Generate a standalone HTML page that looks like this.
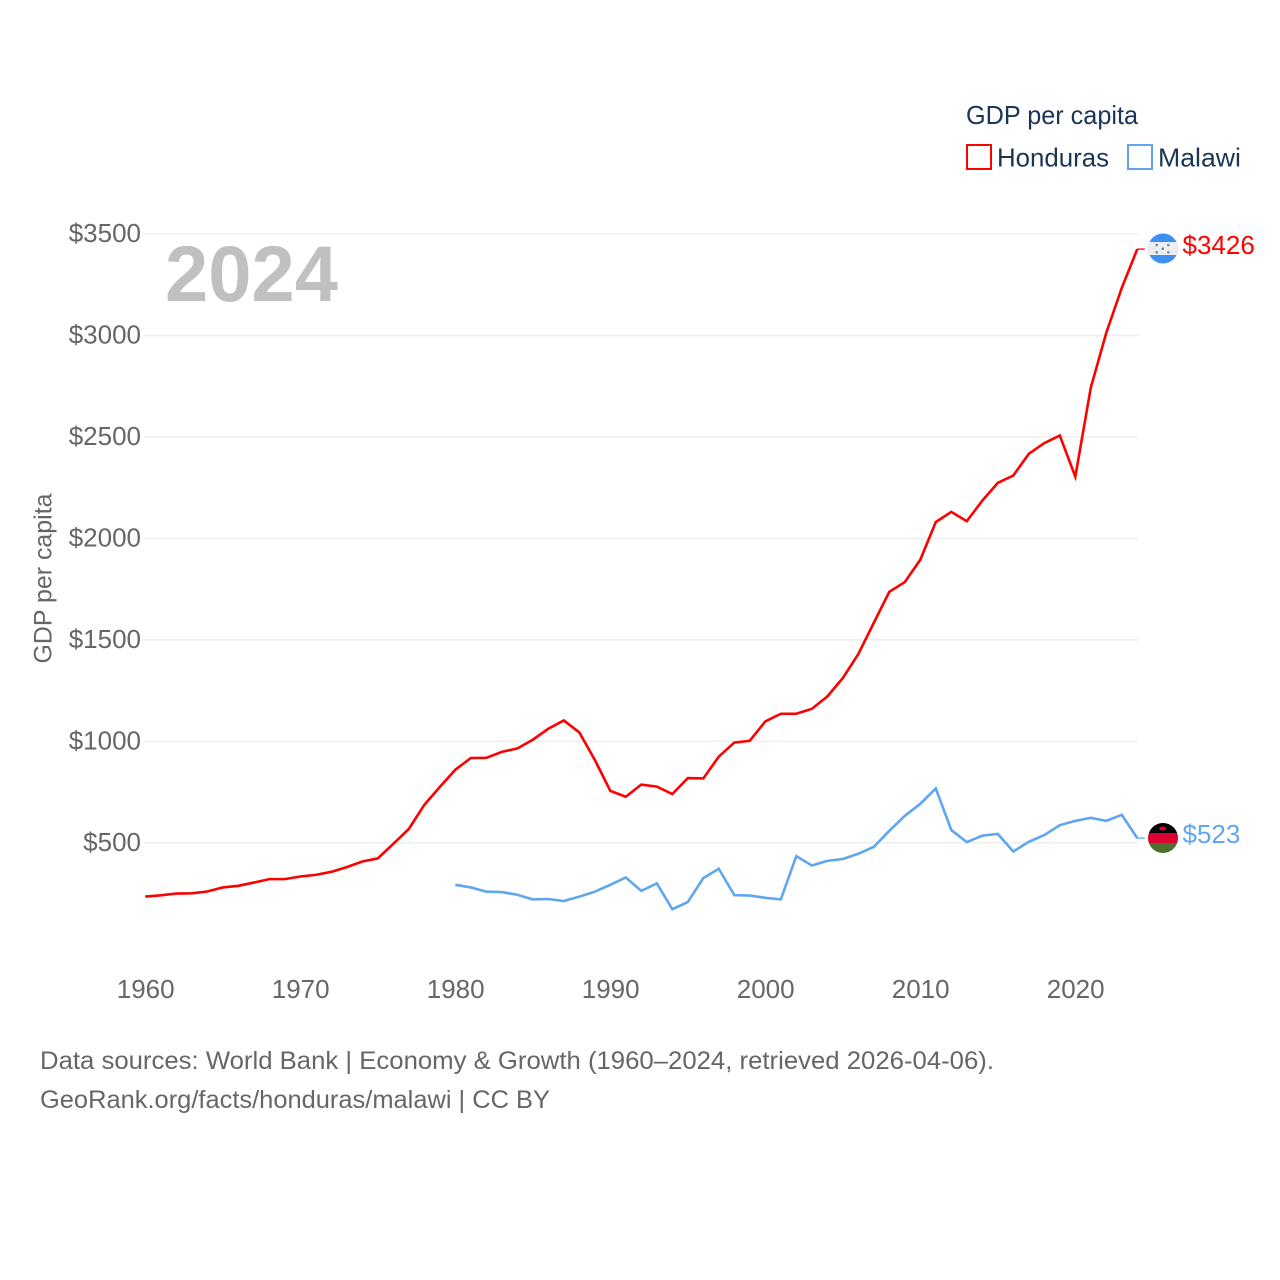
<!DOCTYPE html>
<html lang="en">
<head>
<meta charset="utf-8">
<title>GDP per capita: Honduras and Malawi</title>
<style>
html,body{margin:0;padding:0;background:#fff;width:1280px;height:1280px;overflow:hidden}
svg{display:block}
text{font-family:"Liberation Sans",sans-serif}
</style>
</head>
<body>
<svg id="chart" width="1280" height="1280" viewBox="0 0 1280 1280" xmlns="http://www.w3.org/2000/svg">
  <defs>
    <clipPath id="clip-hn"><circle cx="1163" cy="248.5" r="15"/></clipPath>
    <clipPath id="clip-mw"><circle cx="1163" cy="838" r="15"/></clipPath>
  </defs>
  <g id="grid"></g>
  <g id="yticks"></g>
  <g id="xticks"></g>
  <text x="165" y="301" font-size="79" font-weight="700" fill="#c0c0c0" textLength="173" lengthAdjust="spacingAndGlyphs">2024</text>
  <text transform="translate(51.5,663.5) rotate(-90)" font-size="25" fill="#666666" textLength="170" lengthAdjust="spacingAndGlyphs">GDP per capita</text>
  <g id="series"></g>

  <g clip-path="url(#clip-hn)">
    <rect x="1148" y="233" width="30" height="31" fill="#3d8ff0"/>
    <rect x="1148" y="242" width="30" height="13" fill="#eeeeee"/>
    <circle cx="1156.7" cy="245" r="1.3" fill="#4a90e2"/>
    <circle cx="1168.3" cy="245" r="1.3" fill="#4a90e2"/>
    <circle cx="1162.7" cy="248.7" r="1.3" fill="#4a90e2"/>
    <circle cx="1156.7" cy="252.3" r="1.3" fill="#4a90e2"/>
    <circle cx="1168.3" cy="252.3" r="1.3" fill="#4a90e2"/>
  </g>
  <g clip-path="url(#clip-mw)">
    <rect x="1148" y="823" width="30" height="10" fill="#000000"/>
    <rect x="1148" y="833" width="30" height="10" fill="#dc0030"/>
    <rect x="1148" y="843" width="30" height="10" fill="#4d7030"/>
    <ellipse cx="1162.7" cy="828.5" rx="3.5" ry="2" fill="#dc0030"/>
  </g>
  <g id="end-labels"></g>

  <g>
    <text x="966" y="124" font-size="26" fill="#1b3556" textLength="172" lengthAdjust="spacingAndGlyphs">GDP per capita</text>
    <g>
      <rect x="967" y="145" width="24" height="24" fill="none" stroke="#ff0000" stroke-width="2"/>
      <text x="997" y="166.5" font-size="26" fill="#1b3556" textLength="112" lengthAdjust="spacingAndGlyphs">Honduras</text>
    </g>
    <g>
      <rect x="1128" y="145" width="24" height="24" fill="none" stroke="#5fa6ee" stroke-width="2"/>
      <text x="1158" y="166.5" font-size="26" fill="#1b3556" textLength="83" lengthAdjust="spacingAndGlyphs">Malawi</text>
    </g>
  </g>

  <text x="40" y="1069" font-size="25" fill="#666666" textLength="954" lengthAdjust="spacingAndGlyphs">Data sources: World Bank | Economy &amp; Growth (1960–2024, retrieved 2026-04-06).</text>
  <text x="40" y="1108" font-size="25" fill="#666666" textLength="510" lengthAdjust="spacingAndGlyphs">GeoRank.org/facts/honduras/malawi | CC BY</text>
</svg>
<script>
const hondurasStartYear = 1960;
const malawiStartYear = 1980;
const hondurasValues = [235,241,250,251,260,280,288,304,321,321,334,342,357,380,408,423,495,568,687,775,860,918,919,948,965,1008,1062,1103,1044,909,756,727,787,777,740,819,817,925,994,1003,1098,1136,1136,1160,1221,1312,1430,1584,1737,1785,1895,2081,2131,2085,2186,2274,2310,2417,2470,2507,2305,2743,3014,3235,3426];
const malawiValues = [293,280,259,257,244,221,223,213,235,259,293,329,263,300,173,208,326,372,242,240,229,221,434,388,411,420,446,480,559,633,692,768,563,503,535,544,457,505,538,587,608,623,608,638,523];
const yTickValues = [500,1000,1500,2000,2500,3000,3500];
const xTickValues = [1960,1970,1980,1990,2000,2010,2020];

const NS = 'http://www.w3.org/2000/svg';
function x(year) { return 145.3 + (year - 1960) * 15.5; }
function y(value) { return 842.8 - (value - 500) * 0.2029; }
function money(v) { return '$' + v; }
function make(tag, parent) {
  const el = document.createElementNS(NS, tag);
  parent.appendChild(el);
  return el;
}

const gridGroup = document.getElementById('grid');
const yTickGroup = document.getElementById('yticks');
const xTickGroup = document.getElementById('xticks');
const seriesGroup = document.getElementById('series');
const endGroup = document.getElementById('end-labels');

yTickValues.forEach(function (v) {
  const line = make('line', gridGroup);
  
  
  line.setAttribute('x1', 144);
  line.setAttribute('x2', 1138);
  line.setAttribute('y1', y(v));
  line.setAttribute('y2', y(v));
  line.setAttribute('stroke', '#eeeeee');
  line.setAttribute('stroke-width', 1.5);
  const label = make('text', yTickGroup);
  
  
  label.setAttribute('x', 141);
  label.setAttribute('y', y(v) + 8);
  label.setAttribute('text-anchor', 'end');
  label.setAttribute('font-size', 26);
  label.setAttribute('fill', '#666666');
  label.textContent = money(v);
});

xTickValues.forEach(function (t) {
  const label = make('text', xTickGroup);
  
  
  label.setAttribute('x', x(t) + 0.4);
  label.setAttribute('y', 998);
  label.setAttribute('text-anchor', 'middle');
  label.setAttribute('font-size', 26);
  label.setAttribute('fill', '#666666');
  label.textContent = t;
});

function drawSeries(values, startYear, color, lineName, connectorName, labelName) {
  const pts = values.map(function (v, i) {
    return x(startYear + i).toFixed(2) + ',' + y(v).toFixed(2);
  }).join(' ');
  const line = make('polyline', seriesGroup);
  
  
  line.setAttribute('points', pts);
  line.setAttribute('fill', 'none');
  line.setAttribute('stroke', color);
  line.setAttribute('stroke-width', 2.6);
  line.setAttribute('stroke-linejoin', 'miter');

  const last = values[values.length - 1];
  const lastX = x(startYear + values.length - 1);
  const connector = make('line', seriesGroup);
  
  
  connector.setAttribute('x1', lastX);
  connector.setAttribute('x2', lastX + 7.5);
  connector.setAttribute('y1', y(last));
  connector.setAttribute('y2', y(last));
  connector.setAttribute('stroke', color);
  connector.setAttribute('stroke-width', 1.3);

  const label = make('text', endGroup);
  
  
  label.setAttribute('x', 1182.5);
  label.setAttribute('y', y(last) + 5);
  label.setAttribute('font-size', 26);
  label.setAttribute('fill', color);
  label.textContent = money(last);
}

drawSeries(hondurasValues, hondurasStartYear, '#ff0000', 'line-honduras', 'connector-honduras', 'value-label-honduras');
drawSeries(malawiValues, malawiStartYear, '#5fa6ee', 'line-malawi', 'connector-malawi', 'value-label-malawi');
</script>
</body>
</html>
